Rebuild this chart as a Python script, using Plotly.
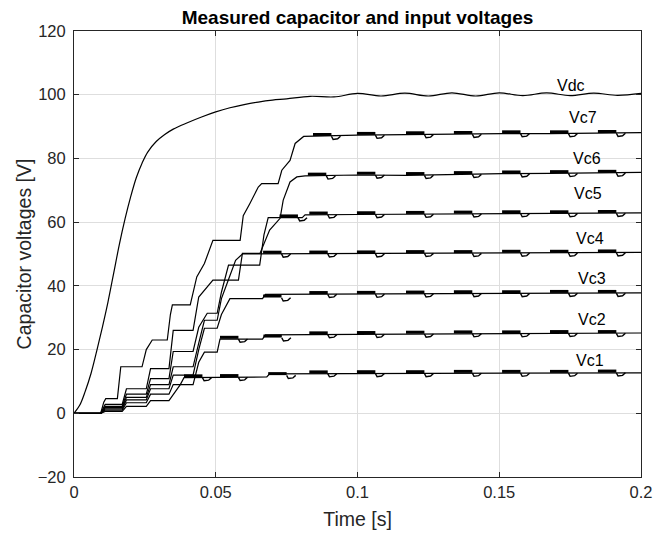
import numpy as np
import plotly.graph_objects as go

# Vdc input voltage (s, V)
vdc_t = [0, 0.002, 0.004, 0.006, 0.008, 0.010, 0.012, 0.014, 0.016, 0.018, 0.020, 0.022,
         0.024, 0.026, 0.029, 0.032, 0.035, 0.040, 0.045, 0.050, 0.055, 0.060,
         0.065, 0.070, 0.075, 0.0833, 0.0917, 0.1000, 0.1083, 0.1167, 0.1250, 0.1333,
         0.1417, 0.1500, 0.1583, 0.1667, 0.1750, 0.1833, 0.1917, 0.2000]
vdc_v = [0, 2.5, 7.0, 12.5, 19.5, 27.0, 35.0, 44.0, 53.0, 61.0, 68.0, 74.0,
         78.5, 82.0, 85.3, 87.5, 89.2, 91.2, 93.0, 94.6, 95.9, 96.9,
         97.7, 98.3, 98.7, 99.5, 99.3, 100.4, 99.6, 100.5, 99.6, 100.6,
         99.6, 100.6, 99.7, 100.6, 99.7, 100.5, 99.8, 100.4]

# capacitor voltages (s, V)
vc7_t = [0, 0.0094, 0.0105, 0.0112, 0.0153, 0.0160, 0.0165, 0.0240, 0.0255, 0.0276, 0.0329,
         0.0340, 0.0347, 0.0410, 0.0433, 0.0460, 0.0490, 0.0586, 0.0597, 0.0620, 0.0650,
         0.0662, 0.0720, 0.0733, 0.0762, 0.0780, 0.0810, 0.0998, 0.1171, 0.1340, 0.1510,
         0.1679, 0.1848, 0.2]
vc7_v = [0, 0, 3.5, 4.6, 4.6, 11.0, 14.6, 14.6, 20.0, 23.0, 23.0,
         31.0, 34.0, 34.0, 42.8, 47.0, 54.3, 54.3, 62.0, 65.8, 71.0,
         72.1, 72.1, 76.3, 79.4, 84.7, 86.9, 87.3, 87.5, 87.6, 87.8,
         87.8, 87.9, 88.1]

vc6_t = [0, 0.0094, 0.0110, 0.0170, 0.0185, 0.0255, 0.0270, 0.0335, 0.0350, 0.0420,
         0.0440, 0.0490, 0.0580, 0.0594, 0.0656, 0.0690, 0.0727, 0.0738, 0.0762, 0.0786,
         0.0815, 0.0998, 0.1171, 0.1340, 0.1510, 0.1679, 0.1848, 0.2]
vc6_v = [0, 0, 2.8, 2.8, 7.7, 7.7, 14.0, 14.0, 26.0, 26.0,
         36.5, 41.8, 41.8, 50.2, 50.2, 57.5, 61.2, 66.9, 72.6, 74.2,
         74.5, 74.8, 74.7, 75.0, 75.2, 75.3, 75.4, 75.6]

vc5_t = [0, 0.0094, 0.0110, 0.0170, 0.0185, 0.0255, 0.0270, 0.0335, 0.0350, 0.0420,
         0.0440, 0.0470, 0.0505, 0.0520, 0.0545, 0.0655, 0.0670, 0.0685, 0.0805, 0.0815,
         0.0998, 0.1171, 0.1340, 0.1510, 0.1679, 0.1848, 0.2]
vc5_v = [0, 0, 2.2, 2.2, 6.0, 6.0, 10.9, 10.9, 19.4, 19.4,
         27.0, 31.4, 31.4, 38.0, 46.5, 46.5, 56.0, 61.4, 61.4, 62.3,
         62.4, 62.5, 62.6, 62.7, 62.7, 62.8, 62.9]

vc4_t = [0, 0.0094, 0.0110, 0.0170, 0.0185, 0.0255, 0.0270, 0.0335, 0.0350, 0.0420,
         0.0440, 0.0460, 0.0505, 0.0520, 0.0545, 0.0570, 0.0594, 0.0998, 0.1171, 0.1340,
         0.1510, 0.1679, 0.1848, 0.2]
vc4_v = [0, 0, 1.8, 1.8, 5.0, 5.0, 9.0, 9.0, 14.6, 14.6,
         22.0, 29.2, 29.2, 36.0, 42.0, 48.0, 50.0, 50.1, 50.2, 50.2,
         50.3, 50.3, 50.4, 50.5]

vc3_t = [0, 0.0094, 0.0110, 0.0170, 0.0185, 0.0255, 0.0270, 0.0335, 0.0350, 0.0420,
         0.0440, 0.0460, 0.0505, 0.0520, 0.0550, 0.0665, 0.0675, 0.0998, 0.1171, 0.1340,
         0.1510, 0.1679, 0.1848, 0.2]
vc3_v = [0, 0, 1.4, 1.4, 4.2, 4.2, 7.7, 7.7, 12.0, 12.0,
         20.0, 26.7, 26.7, 31.0, 36.0, 36.0, 37.3, 37.4, 37.5, 37.6,
         37.6, 37.7, 37.7, 37.8]

vc2_t = [0, 0.0094, 0.0110, 0.0170, 0.0185, 0.0255, 0.0270, 0.0335, 0.0350, 0.0420,
         0.0440, 0.0460, 0.0505, 0.0515, 0.0665, 0.0675, 0.0998, 0.1171, 0.1340, 0.1510,
         0.1679, 0.1848, 0.2]
vc2_v = [0, 0, 1.0, 1.0, 3.3, 3.3, 6.0, 6.0, 9.0, 9.0,
         16.0, 19.2, 19.2, 23.3, 23.3, 24.6, 24.8, 24.9, 25.0, 25.0,
         25.1, 25.1, 25.2]

vc1_t = [0, 0.0094, 0.0110, 0.0170, 0.0185, 0.0255, 0.0270, 0.0335, 0.0355, 0.0375,
         0.0388, 0.0680, 0.0690, 0.0998, 0.1171, 0.1340, 0.1510, 0.1679, 0.1848, 0.2]
vc1_v = [0, 0, 0.6, 0.6, 2.2, 2.2, 4.0, 4.0, 6.5, 9.0,
         11.2, 11.4, 12.4, 12.5, 12.5, 12.6, 12.6, 12.6, 12.7, 12.7]

# switching bursts (start times, s)
steady_bursts = [0.0998, 0.1171, 0.1340, 0.1510, 0.1679, 0.1848]
vc7_b = [0.0843] + steady_bursts
vc6_b = [0.0825] + steady_bursts
vc5_b = [0.0725, 0.0830] + steady_bursts
vc4_b = [0.0667, 0.0830] + steady_bursts
vc3_b = [0.0667, 0.0830] + steady_bursts
vc2_b = [0.0515, 0.0668, 0.0830] + steady_bursts
vc1_b = [0.0388, 0.0515, 0.0685, 0.0830] + steady_bursts

series = [
    ('Vc7', vc7_t, vc7_v, vc7_b),
    ('Vc6', vc6_t, vc6_v, vc6_b),
    ('Vc5', vc5_t, vc5_v, vc5_b),
    ('Vc4', vc4_t, vc4_v, vc4_b),
    ('Vc3', vc3_t, vc3_v, vc3_b),
    ('Vc2', vc2_t, vc2_v, vc2_b),
    ('Vc1', vc1_t, vc1_v, vc1_b),
]

# curve labels
label_text = ['Vdc', 'Vc7', 'Vc6', 'Vc5', 'Vc4', 'Vc3', 'Vc2', 'Vc1']
label_t = [0.1752, 0.1797, 0.1808, 0.1813, 0.1820, 0.1826, 0.1826, 0.1820]
label_v = [103.0, 92.9, 80.1, 69.1, 54.9, 42.4, 29.4, 16.6]

axis_col = '#262626'
fig = go.Figure()

fig.add_trace(go.Scatter(x=vdc_t, y=vdc_v, mode='lines', line_shape='spline',
                         line=dict(color='black', width=1.2), showlegend=False))

burst_len = 0.0065
for name, t, v, b in series:
    fig.add_trace(go.Scatter(x=t, y=v, mode='lines',
                             line=dict(color='black', width=1.2), showlegend=False))
    bx, by, dx, dy = [], [], [], []
    for tb in b:
        lvl = float(np.interp(tb, t, v))
        bx += [tb, tb + burst_len, None]
        by += [lvl + 0.55, lvl + 0.55, None]
        # small dip right after the switching burst
        te = tb + burst_len
        dx += [te, te + 0.0006, te + 0.0022, te + 0.0032, None]
        dy += [lvl, lvl - 1.0, lvl - 0.8, lvl, None]
    fig.add_trace(go.Scatter(x=bx, y=by, mode='lines',
                             line=dict(color='black', width=3), showlegend=False))
    fig.add_trace(go.Scatter(x=dx, y=dy, mode='lines',
                             line=dict(color='black', width=1.4), showlegend=False))

for txt, lt, lv in zip(label_text, label_t, label_v):
    fig.add_annotation(x=lt, y=lv, text=txt, showarrow=False,
                       font=dict(family='Liberation Sans, Arial', size=16, color='black'))

fig.update_layout(
    width=654, height=533,
    margin=dict(l=74, r=13, t=31, b=56, autoexpand=False),
    paper_bgcolor='white', plot_bgcolor='white',
    font=dict(family='Liberation Sans, Arial', color=axis_col),
    title=dict(text='<b>Measured capacitor and input voltages</b>',
               font=dict(size=19, color='black'), automargin=False,
               x=0.5, xref='paper', xanchor='center',
               y=1 - 17.5 / 533, yref='container', yanchor='middle'),
)
fig.update_xaxes(range=[0, 0.2], tickvals=[0, 0.05, 0.1, 0.15, 0.2],
                 ticktext=['0', '0.05', '0.1', '0.15', '0.2'], automargin=False,
                 showgrid=True, gridcolor='#dedede', gridwidth=1, zeroline=False,
                 showline=True, linecolor=axis_col, linewidth=1, mirror='ticks',
                 ticks='inside', ticklen=5, tickcolor=axis_col,
                 tickfont=dict(size=16.5),
                 title=dict(text='Time [s]', font=dict(size=19.5), standoff=12))
fig.update_yaxes(range=[-20, 120], tickvals=[-20, 0, 20, 40, 60, 80, 100, 120],
                 automargin=False,
                 showgrid=True, gridcolor='#dedede', gridwidth=1, zeroline=False,
                 showline=True, linecolor=axis_col, linewidth=1, mirror='ticks',
                 ticks='inside', ticklen=5, tickcolor=axis_col,
                 tickfont=dict(size=16.5), ticklabelstandoff=4,
                 title=dict(text='Capacitor voltages [V]', font=dict(size=19.5), standoff=0))

# drop the default 8px page margin so the 654x533 figure fills the window
fig.write_html("out.html", config={'displayModeBar': False},
               post_script="document.body.style.margin='0';")
